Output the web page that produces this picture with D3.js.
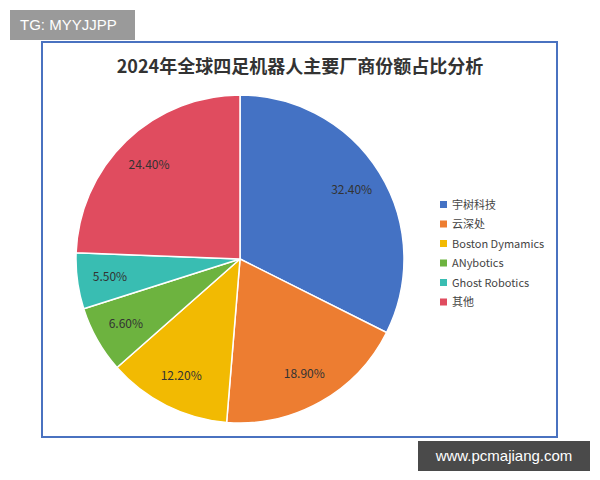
<!DOCTYPE html>
<html><head><meta charset="utf-8">
<script src="https://cdn.jsdelivr.net/npm/d3@7"></script>
<style>body{margin:0;background:#fff}</style>
</head><body>
<svg id="c" width="600" height="480"></svg>
<script>
const categories = ["宇树科技","云深处","Boston Dymamics","ANybotics","Ghost Robotics","其他"];
const values = [32.4, 18.9, 12.2, 6.6, 5.5, 24.4];
const colors = ["#4472C4","#ED7D31","#F2BA02","#6DB33F","#39BDB2","#E04C5F"];
const title = "2024年全球四足机器人主要厂商份额占比分析";

const svg = d3.select("#c");
const font = "'Noto Sans CJK SC','Noto Sans',sans-serif";
svg.append("rect").attr("x",42).attr("y",42).attr("width",515).attr("height",395)
  .attr("fill","#fff").attr("stroke","#4A72C0").attr("stroke-width",2);
svg.append("text").attr("x",300).attr("y",73).attr("text-anchor","middle")
  .attr("font-family",font).attr("font-weight","bold").attr("font-size",18).attr("fill","#333").text(title);

const cx=240, cy=259, r=164;
const pie = d3.pie().sort(null).value(d=>d)(values);
const arc = d3.arc().innerRadius(0).outerRadius(r);
const lab = d3.arc().innerRadius(r*0.8).outerRadius(r*0.8);
const g = svg.append("g").attr("transform",`translate(${cx},${cy})`);
g.selectAll("path").data(pie).join("path").attr("d",arc)
  .attr("fill",(d,i)=>colors[i]).attr("stroke","#fff").attr("stroke-width",1.5);
g.selectAll("text").data(pie).join("text")
  .attr("transform",d=>`translate(${lab.centroid(d)})`).attr("text-anchor","middle").attr("dy","0.35em")
  .attr("font-family",font).attr("font-size",12).attr("fill","#333")
  .text(d=>d.value.toFixed(2)+"%");

const lg = svg.append("g").attr("transform","translate(440,205)");
categories.forEach((c,i)=>{
  const y=i*19.5;
  lg.append("rect").attr("x",0).attr("y",y-4).attr("width",7).attr("height",7).attr("fill",colors[i]);
  lg.append("text").attr("x",12).attr("y",y).attr("dy","0.35em").attr("font-family",font)
    .attr("font-size",11).attr("fill","#444").text(c);
});

svg.append("rect").attr("x",10).attr("y",10).attr("width",125).attr("height",30).attr("fill","#9a9a9a");
svg.append("text").attr("x",20).attr("y",30).attr("font-family","'Liberation Sans',sans-serif").attr("font-size",15).attr("fill","#fff").text("TG: MYYJJPP");
svg.append("rect").attr("x",418).attr("y",441).attr("width",172).attr("height",30).attr("fill","#4a4a4a");
svg.append("text").attr("x",504).attr("y",461).attr("text-anchor","middle").attr("font-family","'Liberation Sans',sans-serif").attr("font-size",15).attr("fill","#fff").text("www.pcmajiang.com");
</script>
</body></html>
